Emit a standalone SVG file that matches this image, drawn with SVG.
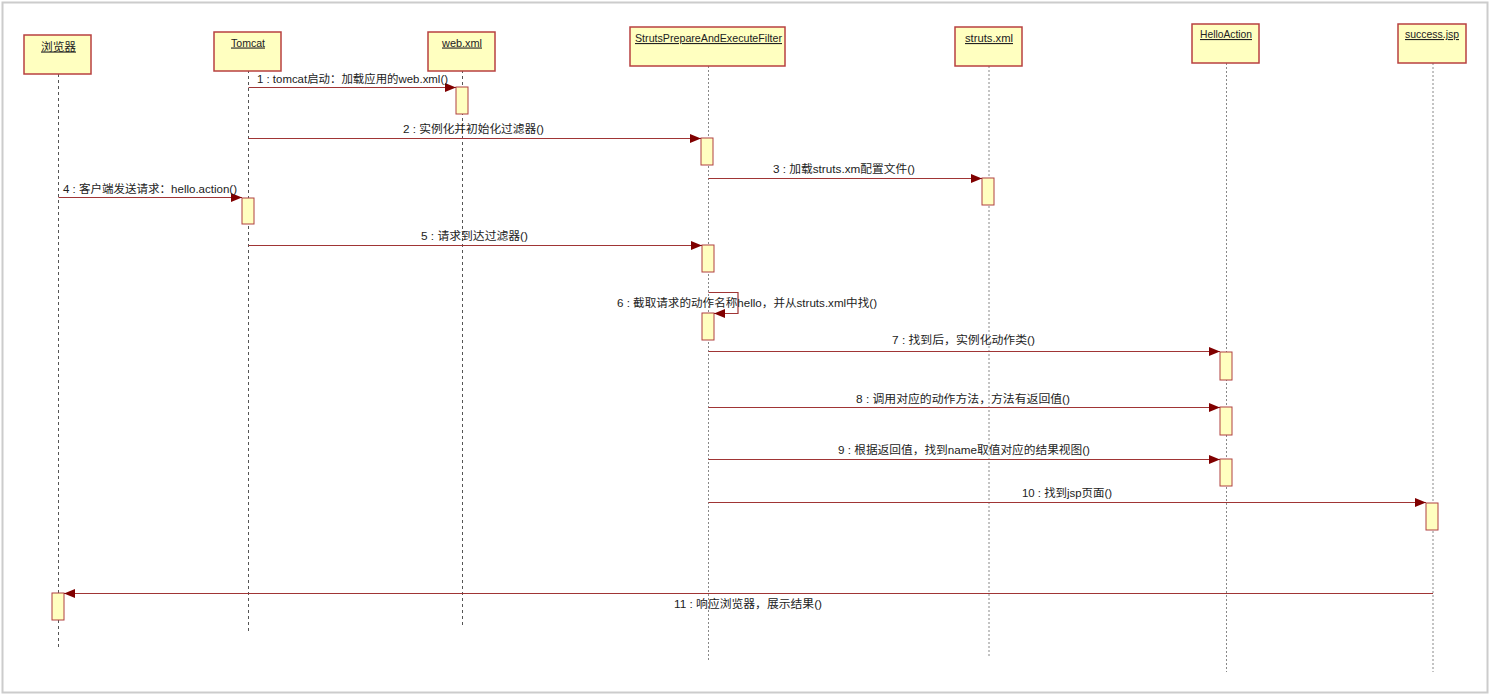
<svg xmlns="http://www.w3.org/2000/svg" width="1493" height="699" viewBox="0 0 1493 699">
<style>
text{font-family:"Liberation Sans","Noto Sans CJK SC",sans-serif;fill:#222;}
.nl{font-size:11px;text-decoration:underline;}
.ml{font-size:11px;}
.box{fill:#ffffc0;stroke:#b84040;stroke-width:1.5;}
.act{fill:#ffffc0;stroke:#b04040;stroke-width:1;}
.life{stroke:#555;stroke-width:1;stroke-dasharray:3 3;fill:none;}
.msg{stroke:#a03535;stroke-width:1.2;fill:none;marker-end:url(#ah);}
</style>
<defs>
<marker id="ah" markerUnits="userSpaceOnUse" markerWidth="12" markerHeight="10" refX="11" refY="4.5" orient="auto">
<path d="M0,0 L11,4.5 L0,9 z" fill="#800000"/>
</marker>
</defs>
<rect x="0" y="0" width="1493" height="699" fill="#fff"/>
<rect x="2.5" y="2.5" width="1485" height="690" fill="none" stroke="#ccc" stroke-width="2"/>

<g id="browser">
<line class="life" x1="58.5" y1="74" x2="58.5" y2="648"/>
<rect class="box" x="24" y="35" width="67" height="39"/>
<text class="nl" x="41" y="50.5" textLength="35" lengthAdjust="spacingAndGlyphs">浏览器</text>
<rect class="act" x="52" y="593" width="12" height="27"/>
</g>
<g id="tomcat">
<line class="life" x1="248.5" y1="70" x2="248.5" y2="631"/>
<rect class="box" x="214" y="32" width="67" height="39"/>
<text class="nl" x="231" y="46.5" textLength="34" lengthAdjust="spacingAndGlyphs">Tomcat</text>
<rect class="act" x="242" y="198" width="12" height="26"/>
</g>
<g id="webxml">
<line class="life" x1="462.5" y1="70" x2="462.5" y2="627"/>
<rect class="box" x="428" y="32" width="67" height="39"/>
<text class="nl" x="442" y="46.5" textLength="40" lengthAdjust="spacingAndGlyphs">web.xml</text>
<rect class="act" x="456" y="87" width="12" height="27"/>
</g>
<g id="filter">
<line class="life" x1="708.5" y1="66" x2="708.5" y2="660" stroke="#888" style="stroke:#888;stroke-dasharray:2 2"/>
<rect class="box" x="630" y="27" width="155" height="39"/>
<text class="nl" x="635" y="42" textLength="147" lengthAdjust="spacingAndGlyphs">StrutsPrepareAndExecuteFilter</text>
<rect class="act" x="701" y="138" width="12" height="27"/>
<rect class="act" x="702" y="245" width="12" height="27"/>
<rect class="act" x="702" y="313" width="12" height="27"/>
</g>
<g id="strutsxml">
<line class="life" x1="989" y1="66" x2="989" y2="657" style="stroke:#888;stroke-dasharray:2 2"/>
<rect class="box" x="955" y="27" width="67" height="39"/>
<text class="nl" x="965" y="42" textLength="48" lengthAdjust="spacingAndGlyphs">struts.xml</text>
<rect class="act" x="982" y="178" width="12" height="27"/>
</g>
<g id="helloaction">
<line class="life" x1="1226.5" y1="63" x2="1226.5" y2="672" style="stroke:#888;stroke-dasharray:2 2"/>
<rect class="box" x="1192" y="24" width="67" height="39"/>
<text class="nl" x="1200" y="38" textLength="52" lengthAdjust="spacingAndGlyphs">HelloAction</text>
<rect class="act" x="1220" y="352" width="12" height="28"/>
<rect class="act" x="1220" y="407" width="12" height="28"/>
<rect class="act" x="1220" y="459" width="12" height="27"/>
</g>
<g id="successjsp">
<line class="life" x1="1433" y1="63" x2="1433" y2="672" style="stroke:#888;stroke-dasharray:2 2"/>
<rect class="box" x="1398" y="24" width="68" height="39"/>
<text class="nl" x="1405" y="38" textLength="54" lengthAdjust="spacingAndGlyphs">success.jsp</text>
<rect class="act" x="1426" y="503" width="12" height="27"/>
</g>

<g id="connectors">
<line class="msg" x1="248.5" y1="87.5" x2="456" y2="87.5"/>
<line class="msg" x1="248.5" y1="138.5" x2="701" y2="138.5"/>
<line class="msg" x1="708.5" y1="178.5" x2="982" y2="178.5"/>
<line class="msg" x1="58.5" y1="197.5" x2="242" y2="197.5"/>
<line class="msg" x1="248.5" y1="245.5" x2="702" y2="245.5"/>
<path class="msg" d="M708.5,292.5 L738,292.5 L738,313.5 L714,313.5"/>
<line class="msg" x1="708.5" y1="351.5" x2="1220" y2="351.5"/>
<line class="msg" x1="708.5" y1="407.5" x2="1220" y2="407.5"/>
<line class="msg" x1="708.5" y1="459.5" x2="1220" y2="459.5"/>
<line class="msg" x1="708.5" y1="502.5" x2="1426" y2="502.5"/>
<line class="msg" x1="1433" y1="593.5" x2="64" y2="593.5"/>
</g>
<g id="labels">
<text class="ml" x="257" y="83" textLength="191" lengthAdjust="spacingAndGlyphs">1 : tomcat启动：加载应用的web.xml()</text>
<text class="ml" x="403" y="133" textLength="141" lengthAdjust="spacingAndGlyphs">2 : 实例化并初始化过滤器()</text>
<text class="ml" x="773" y="173" textLength="142" lengthAdjust="spacingAndGlyphs">3 : 加载struts.xm配置文件()</text>
<text class="ml" x="63" y="193" textLength="174" lengthAdjust="spacingAndGlyphs">4 : 客户端发送请求：hello.action()</text>
<text class="ml" x="421" y="240" textLength="107" lengthAdjust="spacingAndGlyphs">5 : 请求到达过滤器()</text>
<text class="ml" x="617" y="307" textLength="260" lengthAdjust="spacingAndGlyphs">6 : 截取请求的动作名称hello，并从struts.xml中找()</text>
<text class="ml" x="892" y="344" textLength="143" lengthAdjust="spacingAndGlyphs">7 : 找到后，实例化动作类()</text>
<text class="ml" x="856" y="403" textLength="214" lengthAdjust="spacingAndGlyphs">8 : 调用对应的动作方法，方法有返回值()</text>
<text class="ml" x="838" y="454" textLength="252" lengthAdjust="spacingAndGlyphs">9 : 根据返回值，找到name取值对应的结果视图()</text>
<text class="ml" x="1022" y="497" textLength="90" lengthAdjust="spacingAndGlyphs">10 : 找到jsp页面()</text>
<text class="ml" x="674" y="608" textLength="148" lengthAdjust="spacingAndGlyphs">11 : 响应浏览器，展示结果()</text>
</g>
</svg>
